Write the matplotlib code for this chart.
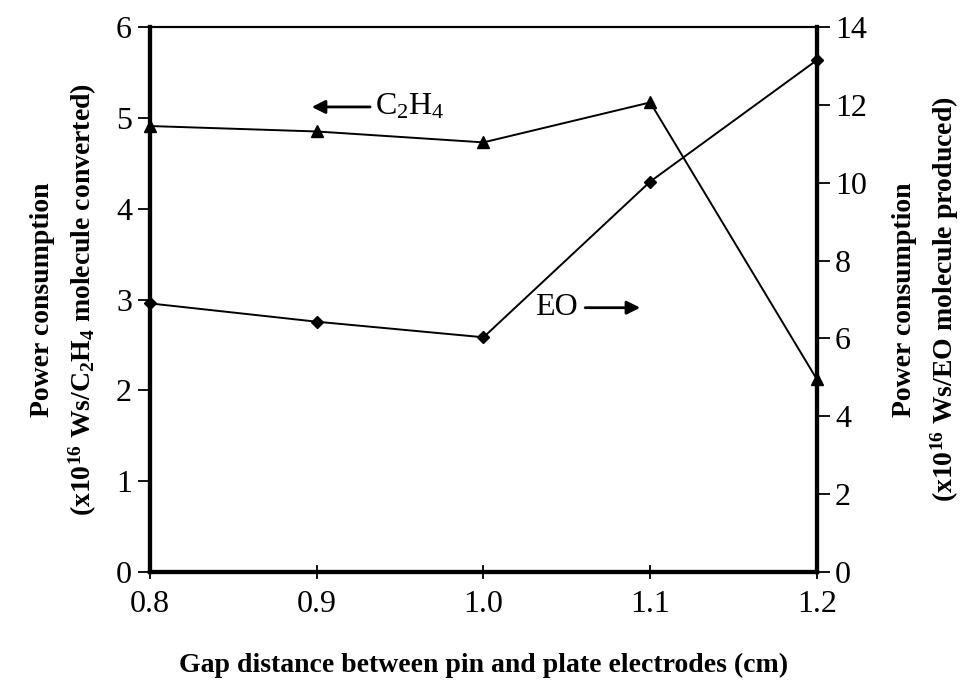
import matplotlib
matplotlib.use("Agg")
import matplotlib.pyplot as plt

# -------------------------
# DATA
# -------------------------
gap_cm = [0.8, 0.9, 1.0, 1.1, 1.2]
c2h4_power = [4.91, 4.85, 4.73, 5.17, 2.12]    # left axis
eo_power = [6.90, 6.43, 6.03, 10.03, 13.15]    # right axis
x_ticks = [0.8, 0.9, 1.0, 1.1, 1.2]
x_tick_labels = ["0.8", "0.9", "1.0", "1.1", "1.2"]
left_ticks = [0, 1, 2, 3, 4, 5, 6]
right_ticks = [0, 2, 4, 6, 8, 10, 12, 14]

plt.rcParams["font.family"] = ["Liberation Serif", "DejaVu Serif"]
plt.rcParams["mathtext.fontset"] = "custom"
plt.rcParams["mathtext.rm"] = "Liberation Serif"
plt.rcParams["mathtext.bf"] = "Liberation Serif:bold"
plt.rcParams["mathtext.it"] = "Liberation Serif:italic"

fig = plt.figure(figsize=(9.66, 6.84), dpi=100)
ax = fig.add_axes([0.1553, 0.1637, 0.6904, 0.7968])
ax2 = ax.twinx()

ax.plot(gap_cm, c2h4_power, color="black", lw=1.4, marker="^", ms=9,
        clip_on=False, zorder=5)
ax2.plot(gap_cm, eo_power, color="black", lw=1.4, marker="D", ms=6.5,
         clip_on=False, zorder=5)

ax.set_xlim(0.8, 1.2)
ax.set_ylim(0, 6)
ax2.set_ylim(0, 14)
ax.set_xticks(x_ticks)
ax.set_xticklabels(x_tick_labels)
ax.set_yticks(left_ticks)
ax2.set_yticks(right_ticks)

for a in (ax, ax2):
    a.spines["left"].set_linewidth(3)
    a.spines["right"].set_linewidth(3)
    a.spines["bottom"].set_linewidth(3)
    a.spines["top"].set_linewidth(1.5)
    a.tick_params(labelsize=23, width=1.3, length=9, pad=4)
ax.tick_params(axis="x", direction="inout", length=10, pad=8)

ax.set_xlabel("Gap distance between pin and plate electrodes (cm)",
              fontsize=20, fontweight="bold", labelpad=24)
ax.set_ylabel("Power consumption\n(x10$^{\\mathbf{16}}$ Ws/C$_{\\mathbf{2}}$H$_{\\mathbf{4}}$ molecule converted)",
              fontsize=20, fontweight="bold", labelpad=12, linespacing=1.5)
ax2.set_ylabel("Power consumption\n(x10$^{\\mathbf{16}}$ Ws/EO molecule produced)",
               fontsize=20, fontweight="bold", labelpad=18, linespacing=1.5,
               rotation=90)

# series labels with arrows
ax.annotate("", xy=(0.897, 5.12), xytext=(0.932, 5.12),
            arrowprops=dict(arrowstyle="-|>", color="black", lw=2,
                            mutation_scale=20, shrinkA=0, shrinkB=0))
ax.text(0.935, 5.12, "C$_2$H$_4$", fontsize=23, va="center", ha="left")
ax.text(1.031, 2.91, "EO", fontsize=23, va="center", ha="left")
ax.annotate("", xy=(1.094, 2.91), xytext=(1.061, 2.91),
            arrowprops=dict(arrowstyle="-|>", color="black", lw=2,
                            mutation_scale=20, shrinkA=0, shrinkB=0))

fig.savefig("out.png", dpi=100)
